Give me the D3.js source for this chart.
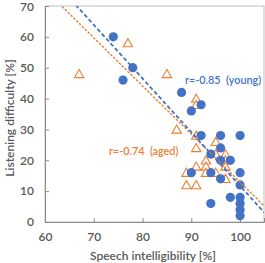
<!DOCTYPE html>
<html>
<head>
<meta charset="utf-8">
<script src="https://cdn.jsdelivr.net/npm/d3@7"></script>
<style>
  body { margin: 0; background: #fff; }
  svg text { font-family: Lato, "Open Sans", sans-serif; }
</style>
</head>
<body>
<div id="plot"></div>
<script>
// Young listeners (filled circles)
const youngX = [74, 76, 78, 88, 90, 92, 92, 96, 100, 94, 96, 96, 98, 90, 94, 96, 100, 100, 94, 98, 100, 100, 100, 100];
const youngY = [60, 46, 50, 42, 36, 38, 28, 28, 28, 22, 24, 20, 20, 16, 16, 14, 16, 12, 6, 8, 8, 6, 4, 2];

// Aged listeners (open triangles)
const agedX = [67, 77, 85, 91, 91, 87, 91, 91, 95, 95, 97, 93, 97, 97, 93, 91, 89, 93, 95, 89, 91, 97];
const agedY = [48, 58, 48, 40, 38, 30, 28, 24, 26, 22, 22, 20, 20, 18, 18, 18, 16, 16, 16, 12, 12, 14];

// Trend lines: [intercept, slope]
const fitYoung = [185.7, -1.74];
const fitAged = [168.9, -1.56];

const xTicks = [60, 70, 80, 90, 100];
const yTicks = [0, 10, 20, 30, 40, 50, 60, 70];

const margin = { top: 6, right: 1, bottom: 41, left: 45 };
const width = 265 - margin.left - margin.right;
const height = 263 - margin.top - margin.bottom;

const svg = d3.select("#plot")
  .append("svg")
  .attr("width", 265)
  .attr("height", 263);

const g = svg.append("g")
  .attr("transform", `translate(${margin.left},${margin.top})`);

const x = d3.scaleLinear().domain([60, 104.9]).range([0, width]);
const y = d3.scaleLinear().domain([0, 70]).range([height, 0]);

const gray = "#595959";

// plot box
g.append("rect")
  .attr("width", width)
  .attr("height", height)
  .attr("fill", "none")
  .attr("stroke", "#bfbfbf")
  .attr("stroke-width", 1);

// axes (ticks point inward)
const xAxis = g.append("g")
  .attr("transform", `translate(0,${height})`)
  .call(d3.axisBottom(x).tickValues(xTicks).tickSize(-4).tickPadding(10));
const yAxis = g.append("g")
  .call(d3.axisLeft(y).tickValues(yTicks).tickSize(-4).tickPadding(10));

[xAxis, yAxis].forEach(a => {
  a.select(".domain").attr("stroke", "#8c8c8c");
  a.selectAll(".tick line").attr("stroke", "#8c8c8c");
  a.selectAll(".tick text")
    .attr("fill", gray)
    .attr("font-size", 12)
    .attr("font-weight", 600);
});
yAxis.selectAll(".tick text").attr("dx", "-1");
// keep the top label inside the picture
yAxis.selectAll(".tick text").filter(d => d === 70).attr("dy", "0.4em");

// markers
const tri = d3.symbol().type(d3.symbolTriangle).size(38);
g.append("g")
  .selectAll("path")
  .data(agedX.map((v, i) => [v, agedY[i]]))
  .join("path")
  .attr("d", tri)
  .attr("transform", d => `translate(${x(d[0])},${y(d[1]) + 1})`)
  .attr("fill", "#fff")
  .attr("stroke", "#ed7d31")
  .attr("stroke-width", 1.1);

g.append("g")
  .selectAll("circle")
  .data(youngX.map((v, i) => [v, youngY[i]]))
  .join("circle")
  .attr("cx", d => x(d[0]))
  .attr("cy", d => y(d[1]))
  .attr("r", 4.6)
  .attr("fill", "#4472c4");

// trend lines clipped to the plot box
svg.append("clipPath").attr("id", "clip")
  .append("rect").attr("width", width).attr("height", height);

function fitLine(fit, color, dash, w) {
  const x0 = 60, x1 = 105;
  g.append("line")
    .attr("clip-path", "url(#clip)")
    .attr("x1", x(x0)).attr("y1", y(fit[0] + fit[1] * x0))
    .attr("x2", x(x1)).attr("y2", y(fit[0] + fit[1] * x1))
    .attr("stroke", color)
    .attr("stroke-width", w)
    .attr("stroke-dasharray", dash);
}
fitLine(fitAged, "#ed7d31", "2.5,1.5", 1.4);
fitLine(fitYoung, "#4472c4", "4,2.5", 1.8);

// correlation labels
g.append("text")
  .attr("x", x(88.7)).attr("y", y(44.6))
  .attr("fill", "#4472c4")
  .attr("font-size", 10.8)
  .attr("font-weight", 600)
  .attr("xml:space", "preserve")
  .text("r=-0.85  (young)");

g.append("text")
  .attr("x", x(73.1)).attr("y", y(21.8))
  .attr("fill", "#ed7d31")
  .attr("font-size", 10.8)
  .attr("font-weight", 600)
  .attr("xml:space", "preserve")
  .text("r=-0.74  (aged)");

// axis titles
svg.append("text")
  .attr("x", 153).attr("y", 260)
  .attr("text-anchor", "middle")
  .attr("fill", gray)
  .attr("font-size", 12)
  .attr("font-weight", 600)
  .text("Speech intelligibility [%]");

svg.append("text")
  .attr("transform", "translate(14,118) rotate(-90)")
  .attr("text-anchor", "middle")
  .attr("fill", gray)
  .attr("font-size", 12)
  .attr("font-weight", 600)
  .text("Listening difficulty [%]");
</script>
</body>
</html>
